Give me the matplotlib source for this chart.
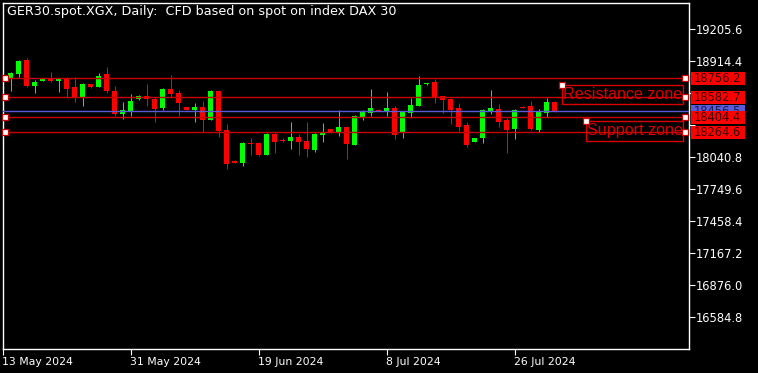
import matplotlib
matplotlib.use("Agg")
import matplotlib.pyplot as plt
from matplotlib.patches import Rectangle
import numpy as np

# ---------------- data ----------------
opens = [18750.6, 18798.8, 18920.8, 18689.6, 18735, 18757, 18735, 18760.4, 18675, 18589.5,
         18705, 18680.5, 18796.1, 18641.4, 18429.4, 18453, 18565.9, 18596, 18568.6, 18489.5,
         18659.6, 18623, 18493, 18468.5, 18495.8, 18377.5, 18644, 18286.5, 18007, 17989,
         18168, 18168, 18059, 18250, 18198, 18186, 18222.8, 18186, 18104.5, 18243.7,
         18295.6, 18256.5, 18316.5, 18152.7, 18404.8, 18444, 18468.5, 18456.7, 18486.7, 18262,
         18444, 18507.6, 18705, 18723, 18596, 18568.6, 18486.7, 18332, 18180, 18213.7,
         18456.7, 18477.6, 18377.5, 18295.6, 18498, 18505, 18286.5, 18444, 18541.3]
highs = [18814, 18923.5, 18939, 18741.5, 18755, 18814.3, 18757, 18766, 18766, 18714,
         18708, 18808, 18862.5, 18686.9, 18544, 18614, 18605, 18705, 18589.5, 18668.7,
         18787, 18650.5, 18496, 18535, 18550.4, 18653, 18650.5, 18338, 18010, 18180,
         18213.7, 18180, 18259, 18262, 18213.7, 18359.3, 18250, 18359.3, 18259, 18350,
         18300, 18468.5, 18326, 18423, 18468.5, 18659.6, 18480, 18632, 18505, 18462,
         18580.4, 18780.6, 18714, 18750.6, 18596, 18580.4, 18535, 18359.3, 18213.7, 18480,
         18650.5, 18523, 18398, 18480, 18505, 18550.4, 18477.6, 18580.4, 18553]
lows = [18641.4, 18766, 18680.5, 18626, 18730, 18723.3, 18635, 18589.5, 18544, 18507.6,
        18673, 18674, 18626, 18413.9, 18384, 18416.6, 18560, 18507.6, 18362, 18468.5,
        18589.5, 18416.6, 18468, 18356, 18271, 18375, 18220, 17934, 17986, 17958.9,
        18059, 18052, 18056, 18074, 18177, 18113.6, 18059, 18041, 18086, 18177,
        18258, 18232, 18025, 18150, 18377.5, 18414, 18455, 18414, 18207, 18216,
        18407.6, 18505, 18693, 18535, 18444, 18338, 18280, 18135, 18180, 18165.5,
        18432, 18316.5, 18080, 18207, 18485, 18286.5, 18271, 18407.6, 18450]
closes = [18805.2, 18914.4, 18686.9, 18723.3, 18750.6, 18732.4, 18753, 18662.3, 18580.4, 18705,
          18680.5, 18780.6, 18644.1, 18432.1, 18468.5, 18550.4, 18596, 18565.9, 18477.6, 18662.3,
          18614, 18535, 18471, 18495.8, 18377.5, 18644, 18277.4, 17977, 17989, 18165.5,
          18159, 18059, 18250, 18180, 18189, 18222.8, 18177, 18113.6, 18250, 18265.6,
          18262, 18313.8, 18161.8, 18414, 18453, 18486.7, 18456.7, 18486.7, 18243.7, 18453,
          18516.7, 18698.7, 18714, 18580.4, 18562.3, 18468.5, 18316.5, 18150, 18213.7, 18468.5,
          18486.7, 18362, 18286.5, 18468.5, 18489, 18295.6, 18450, 18541.3, 18456.5]

date_tick_pos = [-1, 15, 31, 47, 63]
date_tick_labels = ["13 May 2024", "31 May 2024", "19 Jun 2024", "8 Jul 2024", "26 Jul 2024"]

price_ticks = [19205.6, 18914.4, 18623.2, 18332.0, 18040.8, 17749.6, 17458.4, 17167.2, 16876.0, 16584.8]
# tick labels hidden behind the price boxes in the reference
hidden_ticks = [18623.2, 18332.0]

level_prices = [18756.2, 18582.7, 18404.4, 18264.6]
bid_price = 18456.5

zone_names = ["Resistance zone", "Support zone"]
zone_tops = [18696.0, 18368.4]
zone_bottoms = [18520.4, 18189.0]
zone_starts = [68.94, 71.94]
zone_ends = [84.06, 84.06]

title = "GER30.spot.XGX, Daily:  CFD based on spot on index DAX 30"

# ---------------- figure ----------------
W, H = 758, 373
fig = plt.figure(figsize=(W / 100, H / 100), dpi=100, facecolor="black")
left_px, right_px, top_px, bot_px = 2.5, 689, 3, 349
ax = fig.add_axes([left_px / W, 1 - bot_px / H, (right_px - left_px) / W, (bot_px - top_px) / H])
ax.set_facecolor("black")

px_per_bar = 8.0
ax.set_xlim(-1, -1 + (right_px - left_px) / px_per_bar)
ax.set_ylim(16293.6, 19442.2)
units_per_px = (19442.2 - 16293.6) / (bot_px - top_px)

o = np.array(opens); h = np.array(highs); l = np.array(lows); c = np.array(closes)
x = np.arange(len(o))
up = c >= o
cols = np.where(up, "#00ff00", "#ff0000")

ax.vlines(x, l, h, colors=cols, linewidth=0.75, zorder=2)
body_h = np.maximum(np.abs(c - o), units_per_px)
ax.bar(x, body_h, bottom=np.minimum(o, c), width=5 / px_per_bar, color=cols,
       linewidth=0, zorder=3)

line_red = "#c80000"
x_left_marker = -1 + (5 - left_px) / px_per_bar
x_right_marker = -1 + (685 - left_px) / px_per_bar
for p in level_prices:
    ax.axhline(p, color=line_red, linewidth=1.0, zorder=4)
    ax.plot([x_left_marker, x_right_marker], [p, p], linestyle="none", marker="s",
            markersize=4.2, markerfacecolor="white", markeredgecolor=line_red,
            markeredgewidth=0.9, zorder=6, clip_on=False)
ax.axhline(bid_price, color="#5a5ad8", linewidth=1.0, zorder=4)

zone_col = "#d80000"
for name, t, b, s, e in zip(zone_names, zone_tops, zone_bottoms, zone_starts, zone_ends):
    ax.add_patch(Rectangle((s, b), e - s, t - b, fill=False, edgecolor=zone_col,
                           linewidth=1.0, zorder=5))
    ax.plot([s], [t], linestyle="none", marker="s", markersize=4.2,
            markerfacecolor="white", markeredgecolor=zone_col, markeredgewidth=0.9, zorder=6)
    ax.text((s + e) / 2, (t + b) / 2, name, color=zone_col, fontsize=11.6,
            family="Liberation Sans", ha="center", va="center", zorder=5)

# axes styling
for sp in ax.spines.values():
    sp.set_color("white")
    sp.set_linewidth(1.0)
ax.yaxis.tick_right()
ax.set_yticks(price_ticks)
ax.set_yticklabels(["" if v in hidden_ticks else f"{v:.1f}" for v in price_ticks])
ax.tick_params(axis="y", colors="white", length=4, width=0.8, pad=0.8, labelsize=8.3,
               labelcolor="white")
ax.set_xticks(date_tick_pos)
ax.set_xticklabels(date_tick_labels)
for lab in ax.get_xticklabels():
    lab.set_horizontalalignment("left")
ax.tick_params(axis="x", colors="white", length=4, width=0.8, pad=2, labelsize=7.8,
               labelcolor="white")

# price boxes on the right axis
ytr = ax.get_yaxis_transform()
bx0 = (690.5 - left_px) / (right_px - left_px)
bx1 = (745 - left_px) / (right_px - left_px)
bh = 13 * units_per_px
# bid box (drawn first, mostly covered by the red boxes)
ax.add_patch(Rectangle((bx0, bid_price - bh / 2), bx1 - bx0, bh, transform=ytr,
                       facecolor="#5a5ad8", edgecolor="none", clip_on=False, zorder=10))
visible = Rectangle((bx0, bid_price - bh / 2 + 0.0), bx1 - bx0,
                    (18582.7 - bh / 2) - (bid_price - bh / 2), transform=ytr,
                    facecolor="none", edgecolor="none")
ax.add_patch(visible)
bt = ax.text((bx0 + bx1) / 2, bid_price, f"{bid_price:.1f}", transform=ytr, color="#1a1a50",
             fontsize=8.3, ha="center", va="center", zorder=10.5)
clipbox = Rectangle((bx0, 18404.4 + bh / 2), bx1 - bx0,
                    (18582.7 - bh / 2) - (18404.4 + bh / 2), transform=ytr,
                    facecolor="none", edgecolor="none")
ax.add_patch(clipbox)
bt.set_clip_path(clipbox)

for p in level_prices:
    ax.add_patch(Rectangle((bx0, p - bh / 2), bx1 - bx0, bh, transform=ytr, facecolor="#ff0000",
                           edgecolor="none", clip_on=False, zorder=11))
    ax.text((bx0 + bx1) / 2, p, f"{p:.1f}", transform=ytr, color="#3a0000", fontsize=8.3,
            ha="center", va="center", clip_on=False, zorder=12)

fig.text(7 / W, 1 - 12 / H, title, color="white", fontsize=9.2, ha="left", va="center")

fig.savefig("out.png", dpi=100, facecolor="black")
